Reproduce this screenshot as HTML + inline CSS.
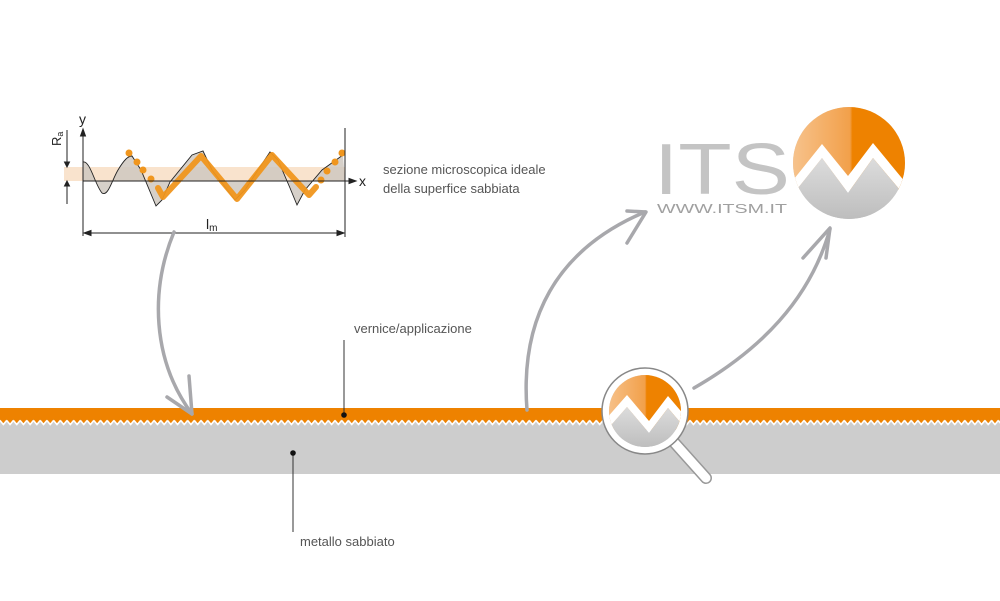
<!DOCTYPE html>
<html><head><meta charset="utf-8"><style>
html,body{margin:0;padding:0;background:#fff;}
svg{display:block;}
text{font-family:"Liberation Sans",sans-serif;}
</style></head><body>
<svg width="1000" height="601" viewBox="0 0 1000 601" xmlns="http://www.w3.org/2000/svg">
<defs>
<pattern id="zz" x="0" y="418" width="6.7" height="10" patternUnits="userSpaceOnUse">
<rect x="0" y="0" width="6.7" height="10" fill="#cdcdcd"/>
<polygon points="0,0 6.7,0 6.7,1.5 3.35,5.5 0,1.5" fill="#ee8200"/>
<polyline points="0,2.5 3.35,6.5 6.7,2.5" fill="none" stroke="#fff" stroke-width="1.6"/>
</pattern>
<linearGradient id="og" x1="0" y1="0" x2="1" y2="0"><stop offset="0" stop-color="#f7c48f"/><stop offset="0.5" stop-color="#f2a04a"/><stop offset="0.52" stop-color="#ee8200"/><stop offset="1" stop-color="#ee8200"/></linearGradient>
<linearGradient id="gg" x1="0" y1="0" x2="0" y2="1"><stop offset="0" stop-color="#dcdcdc"/><stop offset="1" stop-color="#b8b8b8"/></linearGradient>
<clipPath id="cl"><circle cx="849" cy="163" r="56"/></clipPath>
<clipPath id="cm"><circle cx="645" cy="411" r="36"/></clipPath>
</defs>
<!-- bands -->
<rect x="0" y="408" width="1000" height="11" fill="#ee8200"/>
<rect x="0" y="418" width="1000" height="10" fill="url(#zz)"/>
<rect x="0" y="427" width="1000" height="47" fill="#cdcdcd"/>
<!-- leader lines -->
<line x1="344" y1="340" x2="344" y2="415" stroke="#333" stroke-width="1"/>
<circle cx="344" cy="415" r="2.8" fill="#111"/>
<line x1="293" y1="453" x2="293" y2="532" stroke="#333" stroke-width="1"/>
<circle cx="293" cy="453" r="2.8" fill="#111"/>
<text x="354" y="333" font-size="13" fill="#555">vernice/applicazione</text>
<text x="300" y="546" font-size="13" fill="#555">metallo sabbiato</text>
<!-- graph -->
<rect x="64" y="167" width="281" height="14" fill="#f7dcc0" opacity="0.8"/>
<path d="M83,162 C90,160 95,185 102,193 C108,197 112,180 118,170 C124,160 128,156 132,156 L141,170 L156,206 L162,200 L170,182 L192,155 L203,151 L212,170 L235,200 L245,190 L258,170 L270,152 L278,160 L290,188 L297,205 L305,190 L322,170 L343,155 L345,181 L83,181 Z" fill="#cfc8c0" opacity="0.85"/>
<path d="M83,162 C90,160 95,185 102,193 C108,197 112,180 118,170 C124,160 128,156 132,156 L141,170 L156,206 L162,200 L170,182 L192,155 L203,151 L212,170 L235,200 L245,190 L258,170 L270,152 L278,160 L290,188 L297,205 L305,190 L322,170 L343,155" fill="none" stroke="#222" stroke-width="0.9"/>
<polyline points="158,188 163,197 201,156 237,199 272,155 309,195 316,187" fill="none" stroke="#f0961e" stroke-width="6" stroke-linejoin="round" stroke-linecap="round" opacity="0.95"/>
<g fill="#f0961e"><circle cx="129" cy="153" r="3.5"/><circle cx="137" cy="162" r="3.5"/><circle cx="143" cy="170" r="3.5"/><circle cx="151" cy="179" r="3.5"/><circle cx="321" cy="180" r="3.5"/><circle cx="327" cy="171" r="3.5"/><circle cx="335" cy="162" r="3.5"/><circle cx="342" cy="153" r="3.5"/></g>
<g stroke="#222" stroke-width="1" fill="#222">
<line x1="83" y1="132" x2="83" y2="236"/><polygon points="83,129 80.5,136 85.5,136"/>
<line x1="83" y1="181" x2="352" y2="181"/><polygon points="356,181 349,178.5 349,183.5"/>
<line x1="345" y1="128" x2="345" y2="237"/>
<line x1="86" y1="233" x2="342" y2="233"/><polygon points="84,233 91,230.5 91,235.5"/><polygon points="344,233 337,230.5 337,235.5"/>
<line x1="67" y1="130" x2="67" y2="164"/><polygon points="67,167 64.5,162 69.5,162"/>
<line x1="67" y1="184" x2="67" y2="204"/><polygon points="67,181 64.5,186 69.5,186"/>
</g>
<text x="79" y="124" font-size="14" fill="#222">y</text>
<text x="359" y="186" font-size="14" fill="#222">x</text>
<text x="206" y="229" font-size="14" fill="#222">l<tspan font-size="10" dy="2">m</tspan></text>
<text transform="translate(61,146) rotate(-90)" font-size="13" fill="#222">R<tspan font-size="9" dy="2">a</tspan></text>
<text x="383" y="174" font-size="13" fill="#555">sezione microscopica ideale</text>
<text x="383" y="193" font-size="13" fill="#555">della superfice sabbiata</text>
<!-- arrows -->
<g fill="none" stroke="#a8a8ac" stroke-width="3.5" stroke-linecap="round" stroke-linejoin="round">
<path d="M174,232 C150,290 152,360 192,414"/>
<path d="M167,397 L192,414 L189,376"/>
<path d="M527,410 C520,320 555,250 645,212"/>
<path d="M627,211 L646,212 L627,243"/>
<path d="M694,388 C760,350 810,300 830,229"/>
<path d="M803,258 L830,228 L826,258"/>
</g>
<!-- logo -->
<text x="654" y="194" font-size="72" fill="#c4c4c4" textLength="136" lengthAdjust="spacingAndGlyphs">ITS</text>
<text x="657" y="213" font-size="13" fill="#a0a0a0" textLength="130" lengthAdjust="spacingAndGlyphs">WWW.ITSM.IT</text>
<g clip-path="url(#cl)">
<rect x="790" y="100" width="120" height="130" fill="url(#gg)"/>
<rect x="790" y="100" width="120" height="90" fill="url(#og)"/>
<polygon points="790,184 822,144 848,176 873,143 910,188 910,202 873,158 848,193 822,158 790,198" fill="#fff"/>
<polygon points="790,198 822,158 848,193 873,158 910,202 910,230 790,230" fill="url(#gg)"/>
</g>
<!-- magnifier -->
<line x1="672" y1="440" x2="706" y2="478" stroke="#999" stroke-width="12" stroke-linecap="round"/>
<line x1="672" y1="440" x2="706" y2="478" stroke="#fff" stroke-width="9" stroke-linecap="round"/>
<circle cx="645" cy="411" r="43" fill="#fff" stroke="#888" stroke-width="1.5"/>
<g clip-path="url(#cm)">
<rect x="605" y="370" width="80" height="85" fill="url(#gg)"/>
<rect x="605" y="370" width="80" height="60" fill="url(#og)"/>
<polygon points="605,420 627,395 649,421 668,396 685,416 685,428 668,408 649,433 627,407 605,432" fill="#fff"/>
<polygon points="605,432 627,407 649,433 668,408 685,428 685,455 605,455" fill="url(#gg)"/>
</g>
</svg>
</body></html>
